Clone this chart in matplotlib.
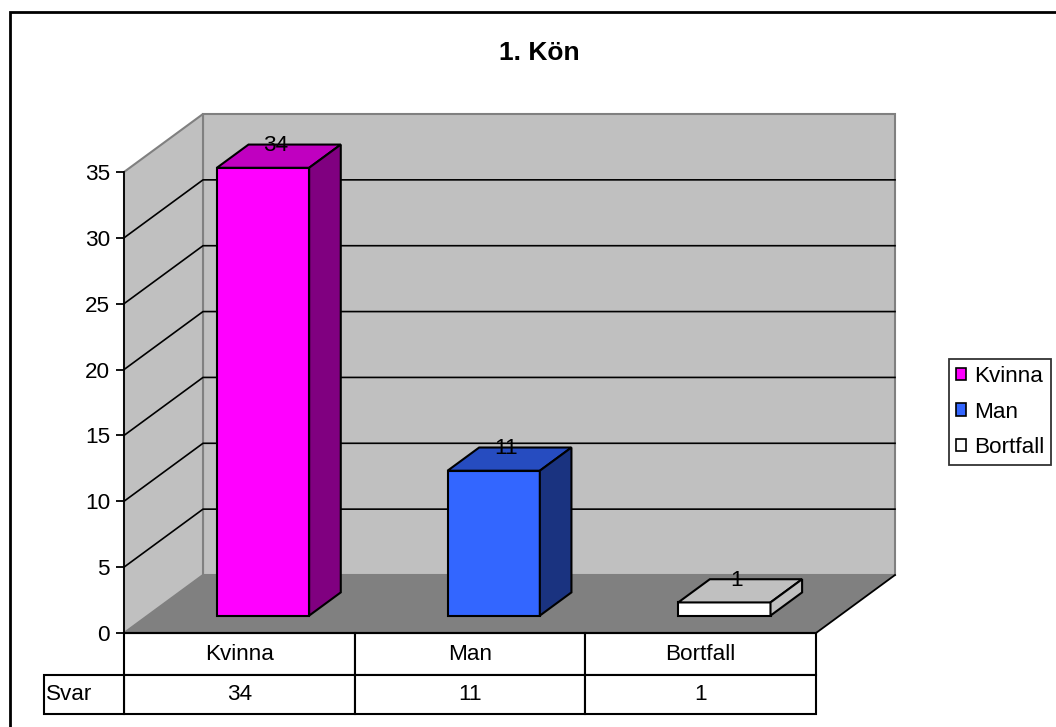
import matplotlib
matplotlib.use('Agg')
import matplotlib.pyplot as plt
from matplotlib.patches import Polygon, Rectangle, Patch

plt.rcParams['font.family'] = ['Liberation Sans', 'DejaVu Sans']

# data
title = '1. Kön'
categories = ['Kvinna', 'Man', 'Bortfall']
values = [34, 11, 1]
row_label = 'Svar'
yticks = [0, 5, 10, 15, 20, 25, 30, 35]

front_cols = ['#FF00FF', '#3366FF', '#FFFFFF']
top_cols = ['#C000C0', '#264CC0', '#C0C0C0']
side_cols = ['#800080', '#1A3380', '#C0C0C0']

FS = 16.2
W, H = 1056, 727
fig = plt.figure(figsize=(W / 100, H / 100), dpi=100)

# front plane of the 3d box, in pixels
x0, x1, y0, y1 = 124, 816, 633, 172
ax = fig.add_axes([x0 / W, 1 - y0 / H, (x1 - x0) / W, (y0 - y1) / H])
ax.set_xlim(0, 3)
ax.set_ylim(0, 35)
ax.patch.set_visible(False)
for s in ['top', 'right', 'bottom']:
    ax.spines[s].set_visible(False)
ax.spines['left'].set_linewidth(1.3)
ax.spines['left'].set_zorder(10)
ax.set_xticks([])
ax.set_yticks(yticks)
ax.tick_params(axis='y', length=6, width=1.3, pad=4, labelsize=FS)

# depth offset (pixels) -> data units
DX, DY = 79, 58
KX = 3 * DX / (x1 - x0)
KY = 35 * DY / (y0 - y1)


def proj(x, v, d):
    return (x + KX * d, v + KY * d)


def poly(pts, fc, ec, lw=1.0, z=1):
    ax.add_patch(Polygon(pts, closed=True, facecolor=fc, edgecolor=ec,
                         linewidth=lw, zorder=z, clip_on=False))


ymax = yticks[-1]
n = len(categories)
# walls and floor
poly([proj(0, 0, 1), proj(n, 0, 1), proj(n, ymax, 1), proj(0, ymax, 1)], '#C0C0C0', '#808080', 1.5)
poly([proj(0, 0, 0), proj(0, 0, 1), proj(0, ymax, 1), proj(0, ymax, 0)], '#C0C0C0', '#808080', 1.5)
poly([proj(0, 0, 0), proj(n, 0, 0), proj(n, 0, 1), proj(0, 0, 1)], '#808080', 'none', 0)
px, py = zip(proj(n, 0, 0), proj(n, 0, 1))
ax.plot(px, py, color='black', lw=1.3, clip_on=False, zorder=2)

# gridlines
for v in yticks[1:-1]:
    pts = [proj(0, v, 0), proj(0, v, 1), proj(n, v, 1)]
    ax.plot([p[0] for p in pts], [p[1] for p in pts], color='black', lw=1.2,
            clip_on=False, zorder=2)

# bars
d0, d1 = 0.3, 0.7
for i, v in enumerate(values):
    a, b = i + 0.3, i + 0.7
    poly([proj(a, 0, d0), proj(b, 0, d0), proj(b, v, d0), proj(a, v, d0)],
         front_cols[i], 'black', 1.5, 3)
    poly([proj(a, v, d0), proj(b, v, d0), proj(b, v, d1), proj(a, v, d1)],
         top_cols[i], 'black', 1.5, 3)
    poly([proj(b, 0, d0), proj(b, 0, d1), proj(b, v, d1), proj(b, v, d0)],
         side_cols[i], 'black', 1.5, 3)
    lx, ly = proj(i + 0.485, v, 0.5)
    ax.text(lx, ly, str(v), ha='center', va='bottom', fontsize=FS, zorder=5)

# data table
rh1 = 42 * 35 / (y0 - y1)
rh2 = 39 * 35 / (y0 - y1)
lab_w = 80 * 3 / (x1 - x0)
for i, c in enumerate(categories):
    ax.add_patch(Rectangle((i, -rh1), 1, rh1, fc='white', ec='black', lw=1.5, clip_on=False))
    ax.add_patch(Rectangle((i, -rh1 - rh2), 1, rh2, fc='white', ec='black', lw=1.5, clip_on=False))
    ax.text(i + 0.5, -rh1 / 2, c, ha='center', va='center', fontsize=FS)
    ax.text(i + 0.5, -rh1 - rh2 / 2, str(values[i]), ha='center', va='center', fontsize=FS)
ax.add_patch(Rectangle((-lab_w, -rh1 - rh2), lab_w, rh2, fc='white', ec='black', lw=1.5, clip_on=False))
ax.text(-lab_w + 0.008, -rh1 - rh2 / 2, row_label, ha='left', va='center', fontsize=FS)
ax.plot([0, n], [0, 0], color='black', lw=1.5, clip_on=False, zorder=4)

# title and chart border
fig.text(539 / W, 1 - 53 / H, title, ha='center', va='center', fontsize=19, fontweight='bold')
fig.add_artist(Rectangle((10 / W, -0.1), 1.1, 1 - 12 / H + 0.1, transform=fig.transFigure,
                         fill=False, ec='black', lw=2))

# legend
handles = [Patch(facecolor=front_cols[i], edgecolor='black', lw=1.2) for i in range(n)]
leg = fig.legend(handles, categories, loc='center left',
                 bbox_to_anchor=(949 / W, 1 - 412 / H), borderaxespad=0,
                 fontsize=FS, frameon=True, fancybox=False, handlelength=0.45,
                 handleheight=0.45, handletextpad=0.35, labelspacing=0.64,
                 borderpad=0.3)
leg.get_frame().set_edgecolor('black')
leg.get_frame().set_linewidth(1.3)

fig.savefig('out.png', dpi=100)
